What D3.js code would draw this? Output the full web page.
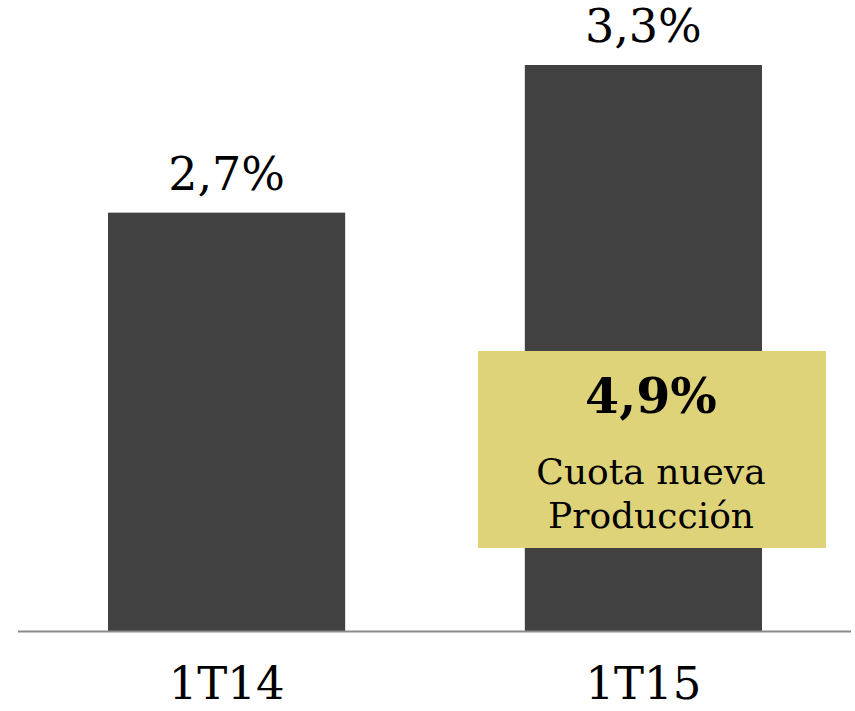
<!DOCTYPE html>
<html>
<head>
<meta charset="utf-8">
<script src="https://cdn.jsdelivr.net/npm/d3@7.9.0/dist/d3.min.js"></script>
<style>
  body { margin: 0; background: #fff; }
  svg text { font-family: "DejaVu Serif", serif; }
</style>
</head>
<body>
<svg id="chart" width="855" height="711"></svg>
<script>
const periods = ['1T14', '1T15'];
const shares = [2.7, 3.3];
const shareLabels = ['2,7%', '3,3%'];
const newProduction = '4,9%';
const newProductionText = ['Cuota nueva', 'Producción'];

const svg = d3.select('#chart');
const baseY = 631;

// scale does not start at zero in the original
let x = d3.scaleBand().domain(periods).range([108, 762]).paddingInner(0.431).paddingOuter(0);
let y = d3.scaleLinear().domain([1, 3.3]).range([baseY, 65]);

svg.selectAll('rect.bar')
  .data(periods)
  .join('rect')
  .attr('class', 'bar')
  .attr('x', (d) => x(d))
  .attr('y', (d, i) => y(shares[i]))
  .attr('width', x.bandwidth())
  .attr('height', (d, i) => baseY - y(shares[i]))
  .attr('fill', '#414141');

svg.selectAll('text.val')
  .data(periods)
  .join('text')
  .attr('class', 'val')
  .attr('x', (d) => x(d) + x.bandwidth() / 2)
  .attr('y', (d, i) => y(shares[i]) - 23)
  .attr('text-anchor', 'middle')
  .attr('font-size', 46)
  .attr('fill', '#000')
  .text((d, i) => shareLabels[i]);

svg.append('line')
  .attr('x1', 18).attr('x2', 851)
  .attr('y1', baseY + 0.5).attr('y2', baseY + 0.5)
  .attr('stroke', '#8a8a8a')
  .attr('stroke-width', 2);

svg.selectAll('text.cat')
  .data(periods)
  .join('text')
  .attr('class', 'cat')
  .attr('x', (d) => x(d) + x.bandwidth() / 2)
  .attr('y', 699)
  .attr('text-anchor', 'middle')
  .attr('font-size', 45)
  .attr('fill', '#000')
  .text((d) => d);

// callout box over second bar
const box = svg.append('g');
box.append('rect')
  .attr('x', 478).attr('y', 351)
  .attr('width', 348).attr('height', 197)
  .attr('fill', '#dfd37a');
box.append('text')
  .attr('x', 651).attr('y', 413)
  .attr('text-anchor', 'middle')
  .attr('font-size', 49)
  .attr('font-weight', 'bold')
  .text(newProduction);
box.selectAll('text.note')
  .data(newProductionText)
  .join('text')
  .attr('class', 'note')
  .attr('x', 651)
  .attr('y', (d, i) => 484 + i * 44)
  .attr('text-anchor', 'middle')
  .attr('font-size', 36)
  .text((d) => d);
</script>
</body>
</html>
